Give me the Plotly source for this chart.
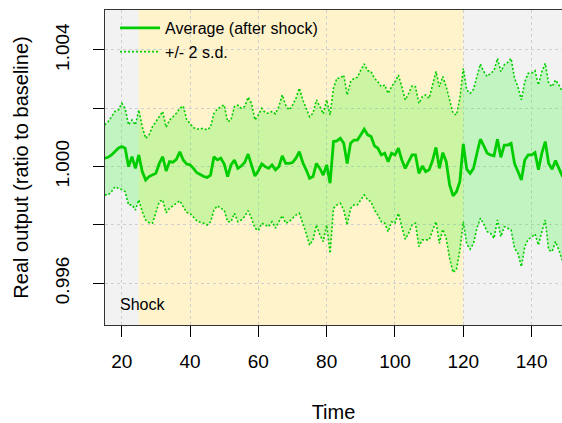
import plotly.graph_objects as go

# ---- data ----
time = list(range(15, 151))

# values expressed as deviation from 1, in thousandths (real output ratio = 1 + v/1000)
avg_permille = [
    0.29, 0.32, 0.40, 0.51, 0.63, 0.69, 0.63, 0.00, 0.34, -0.06,
    0.40, -0.17, -0.46, -0.34, -0.29, -0.23, 0.11, 0.34, -0.15, 0.17,
    0.15, 0.25, 0.51, 0.23, 0.09, 0.06, -0.06, -0.21, -0.27, -0.34,
    -0.37, -0.29, 0.34, 0.23, 0.29, 0.09, -0.34, 0.06, 0.23, -0.06,
    0.02, 0.14, 0.43, 0.02, -0.32, -0.14, 0.09, 0.00, -0.06, 0.06,
    -0.11, 0.00, 0.37, 0.11, 0.11, 0.14, 0.29, 0.51, 0.14, -0.11,
    -0.40, -0.34, 0.11, -0.06, -0.29, 0.06, -0.57, 0.86, 0.88, 0.97,
    0.80, 0.11, 0.80, 0.91, 0.91, 1.09, 1.28, 1.09, 1.03, 0.71,
    0.63, 0.40, 0.46, 0.17, 0.46, 0.40, 0.63, 0.23, -0.06, 0.17,
    0.40, 0.40, -0.23, 0.02, -0.17, -0.11, 0.21, 0.66, -0.06, 0.48,
    0.17, -0.63, -1.00, -0.86, -0.51, 0.78, -0.09, -0.23, -0.06, 0.46,
    0.94, 0.71, 0.46, 0.40, 0.37, 0.94, 0.32, 0.74, 0.74, 0.80,
    0.11, -0.17, -0.46, 0.23, 0.40, 0.40, 0.48, -0.11, 0.46, 0.86,
    0.11, -0.09, 0.21, -0.06, -0.32, -0.35,
]
upper_permille = [
    1.43, 1.54, 1.71, 1.89, 1.94, 2.17, 2.00, 1.43, 1.60, 1.43,
    1.94, 1.37, 0.97, 1.09, 1.37, 1.54, 1.71, 1.89, 1.35, 1.60,
    1.71, 1.83, 2.00, 2.08, 1.62, 1.49, 1.34, 1.28, 1.31, 1.30,
    1.26, 1.35, 1.83, 1.97, 2.06, 2.11, 1.54, 1.60, 2.06, 2.11,
    2.00, 2.06, 2.38, 2.17, 1.60, 1.77, 2.00, 1.85, 1.83, 1.89,
    1.81, 2.06, 2.46, 2.11, 1.94, 2.11, 2.34, 2.69, 2.29, 2.00,
    1.71, 1.83, 2.29, 2.06, 1.81, 2.29, 1.77, 2.69, 3.03, 3.03,
    3.14, 2.46, 2.91, 3.03, 3.06, 3.31, 3.52, 3.29, 3.26, 3.03,
    2.91, 2.74, 2.80, 2.51, 2.74, 2.91, 3.14, 2.74, 2.29, 2.51,
    2.77, 2.74, 2.17, 2.40, 2.46, 2.34, 2.80, 3.26, 2.74, 3.09,
    2.74, 2.23, 1.83, 1.77, 2.34, 3.37, 2.63, 2.51, 2.65, 3.09,
    3.52, 3.26, 3.09, 3.20, 3.29, 3.71, 3.26, 3.49, 3.57, 3.71,
    3.03, 2.74, 2.29, 2.91, 3.20, 3.20, 3.29, 2.80, 3.26, 3.54,
    2.86, 2.74, 2.97, 2.80, 2.57, 2.55,
]
lower_permille = [
    -0.97, -0.97, -0.86, -0.69, -0.74, -0.78, -0.86, -1.31, -1.31, -1.49,
    -1.14, -1.54, -1.83, -1.92, -1.94, -1.54, -1.20, -1.14, -1.58, -1.43,
    -1.34, -1.26, -1.17, -1.37, -1.57, -1.60, -1.75, -1.86, -1.91, -1.94,
    -2.00, -1.89, -1.49, -1.34, -1.43, -1.49, -1.89, -1.89, -1.60, -1.89,
    -1.83, -1.71, -1.51, -1.77, -2.11, -2.19, -1.94, -2.00, -2.06, -1.89,
    -2.11, -1.89, -1.68, -1.94, -1.89, -1.77, -1.66, -1.60, -1.92, -2.29,
    -2.69, -2.51, -2.00, -2.34, -2.57, -2.00, -2.97, -1.43, -1.31, -1.26,
    -1.49, -2.00, -1.43, -1.31, -1.31, -1.14, -0.97, -1.14, -1.20, -1.49,
    -1.66, -1.89, -1.94, -2.23, -1.89, -1.94, -1.60, -2.06, -2.49, -2.29,
    -2.00, -1.94, -2.74, -2.51, -2.51, -2.51, -2.19, -1.89, -2.63, -2.15,
    -2.46, -3.14, -3.63, -3.52, -2.86, -1.89, -2.65, -2.83, -2.63, -2.11,
    -1.77, -1.97, -2.23, -2.29, -2.46, -1.83, -2.40, -2.06, -2.11, -2.17,
    -2.80, -2.97, -3.43, -2.74, -2.49, -2.42, -2.31, -2.69, -2.23, -1.83,
    -2.86, -2.91, -2.57, -2.86, -3.22, -3.25,
]

shock_start, shock_end = 25, 120
x_ticks = [20, 40, 60, 80, 100, 120, 140]
y_ticks = [0.996, 0.998, 1.000, 1.002, 1.004]
y_ticktext = ["0.996", "", "1.000", "", "1.004"]

avg = [1 + v / 1000 for v in avg_permille]
upper = [1 + v / 1000 for v in upper_permille]
lower = [1 + v / 1000 for v in lower_permille]

GREEN = "#00CD00"
FONT = "Liberation Sans, Arial, sans-serif"

fig = go.Figure()
fig.add_trace(go.Scatter(
    x=time, y=lower, mode="lines", name="+/- 2 s.d.", legendrank=2,
    line=dict(color=GREEN, width=1.6, dash="2px,2px"), hoverinfo="skip"))
fig.add_trace(go.Scatter(
    x=time, y=upper, mode="lines", showlegend=False, fill="tonexty",
    fillcolor="rgba(0,255,0,0.2)",
    line=dict(color=GREEN, width=1.6, dash="2px,2px"), hoverinfo="skip"))
fig.add_trace(go.Scatter(
    x=time, y=avg, mode="lines", name="Average (after shock)", legendrank=1,
    line=dict(color=GREEN, width=2.8)))

fig.add_shape(type="rect", xref="x", yref="paper", x0=shock_start, x1=shock_end,
              y0=0, y1=1, fillcolor="#FFF3CC", line=dict(width=0), layer="below")

fig.add_annotation(text="Shock", x=18.8, y=0.99526, xref="x", yref="y",
                   xanchor="left", yanchor="middle", showarrow=False,
                   font=dict(size=16, color="black", family=FONT))

fig.update_layout(
    width=562, height=423,
    margin=dict(l=105, r=0, t=10, b=98),
    paper_bgcolor="white", plot_bgcolor="#F2F2F2",
    font=dict(family=FONT, color="black", size=19),
    showlegend=True,
    legend=dict(x=0.022, y=0.997, xanchor="left", yanchor="top",
                traceorder="normal",
                bgcolor="rgba(0,0,0,0)", font=dict(size=16),
                itemwidth=40),
)
fig.update_xaxes(
    range=[15.1, 148.9], tickvals=x_ticks, ticks="outside", ticklen=11,
    tickcolor="black", tickfont=dict(size=19), ticklabelstandoff=8,
    showgrid=True, gridcolor="#D0D0D0", griddash="dot", gridwidth=1,
    showline=True, linecolor="#333333", linewidth=1, mirror=True,
    zeroline=False,
    title=dict(text="Time", font=dict(size=20), standoff=34))
fig.update_yaxes(
    range=[0.99457, 1.00537], tickvals=y_ticks, ticktext=y_ticktext,
    tickangle=-90, ticks="outside", ticklen=11, tickcolor="black",
    tickfont=dict(size=19), ticklabelstandoff=16,
    showgrid=True, gridcolor="#D0D0D0", griddash="dot", gridwidth=1,
    showline=True, linecolor="#333333", linewidth=1, mirror=False,
    zeroline=False,
    title=dict(text="Real output (ratio to baseline)", font=dict(size=20), standoff=18))

fig.write_html("out.html")
